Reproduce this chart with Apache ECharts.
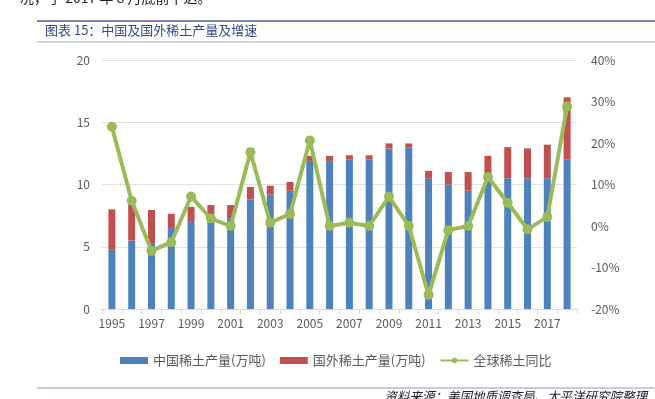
<!DOCTYPE html>
<html>
<head>
<meta charset="utf-8">
<script src="https://cdn.jsdelivr.net/npm/echarts@6/dist/echarts.min.js"></script>
<style>
html,body{margin:0;padding:0;background:#fff;}
#main{width:655px;height:399px;}
</style>
</head>
<body>
<div id="main"></div>
<script>
var years = ['1995','1996','1997','1998','1999','2000','2001','2002','2003','2004','2005','2006',
             '2007','2008','2009','2010','2011','2012','2013','2014','2015','2016','2017','2018'];
// 中国稀土产量(万吨)
var chinaOutput = [4.8,5.5,5.3,6.5,7.0,7.3,7.3,8.8,9.2,9.5,11.9,11.9,
                   12.0,12.0,12.9,13.0,10.5,10.0,9.5,10.5,10.5,10.5,10.5,12.0];
// 国外稀土产量(万吨)
var foreignOutput = [3.2,3.0,2.65,1.15,1.2,1.05,1.05,1.0,0.7,0.7,0.4,0.4,
                     0.35,0.35,0.4,0.3,0.6,1.0,1.5,1.8,2.5,2.4,2.7,5.0];
// 全球稀土同比 (%)
var globalYoy = [23.9,6.1,-6.0,-3.9,7.1,1.8,0,17.8,0.8,2.9,20.6,0,
                 0.8,0,7.1,0,-16.6,-1.0,0,11.8,5.6,-0.8,2.2,28.8];

var FONT = '"Noto Sans CJK SC", "Noto Sans", sans-serif';
var myChart = echarts.init(document.getElementById('main'));

var option = {
    animation: false,
    textStyle: {fontFamily: FONT},
    grid: {left: 102, right: 78, top: 60, bottom: 90},
    legend: {
        left: 115,
        top: 349,
        itemWidth: 28,
        itemHeight: 7,
        itemGap: 14,
        textStyle: {color: '#595959', fontSize: 13, fontFamily: FONT},
        data: [
            {name: '中国稀土产量(万吨)', icon: 'rect'},
            {name: '国外稀土产量(万吨)', icon: 'rect'},
            {name: '全球稀土同比'}
        ]
    },
    xAxis: {
        type: 'category',
        data: years,
        axisLine: {lineStyle: {color: '#d9d9d9'}},
        axisTick: {show: true, interval: 0, length: 5, lineStyle: {color: '#d9d9d9'}},
        axisLabel: {interval: 1, color: '#595959', fontSize: 12, margin: 8}
    },
    yAxis: [{
        type: 'value',
        min: 0, max: 20, interval: 5,
        axisLine: {show: false},
        axisTick: {show: false},
        axisLabel: {color: '#595959', fontSize: 12, margin: 12},
        splitLine: {lineStyle: {color: '#e0e0e0'}}
    }, {
        type: 'value',
        min: -20, max: 40, interval: 10,
        axisLine: {show: false},
        axisTick: {show: false},
        axisLabel: {color: '#595959', fontSize: 12, margin: 14, formatter: '{value}%'},
        splitLine: {show: false}
    }],
    series: [{
        name: '中国稀土产量(万吨)',
        type: 'bar',
        stack: 'output',
        barWidth: 7,
        itemStyle: {color: '#4f81bd'},
        data: chinaOutput
    }, {
        name: '国外稀土产量(万吨)',
        type: 'bar',
        stack: 'output',
        barWidth: 7,
        itemStyle: {color: '#c0504d'},
        data: foreignOutput
    }, {
        name: '全球稀土同比',
        type: 'line',
        yAxisIndex: 1,
        symbol: 'circle',
        symbolSize: 10,
        lineStyle: {color: '#9bbb59', width: 4},
        itemStyle: {color: '#9bbb59'},
        data: globalYoy
    }],
    graphic: [
        {type: 'text', left: 20, top: -9, style: {text: '况，于 2017 年 8 月底前下达。', fill: '#222', font: '14px ' + FONT}},
        {type: 'line', shape: {x1: 37, y1: 21, x2: 655, y2: 21}, style: {stroke: '#7c82b4', lineWidth: 2}},
        {type: 'text', left: 45, top: 24, style: {text: '图表 15：中国及国外稀土产量及增速', fill: '#34488c', font: '13px ' + FONT}},
        {type: 'line', shape: {x1: 37, y1: 42, x2: 655, y2: 42}, style: {stroke: '#a3a6cc', lineWidth: 1}},
        {type: 'line', shape: {x1: 37, y1: 388, x2: 655, y2: 388}, style: {stroke: '#b7b9d6', lineWidth: 1.5}},
        {type: 'text', right: 8, top: 390, style: {text: '资料来源：美国地质调查局、太平洋研究院整理', fill: '#222', font: 'italic 12.5px ' + FONT}}
    ]
};
myChart.setOption(option);
</script>
</body>
</html>
